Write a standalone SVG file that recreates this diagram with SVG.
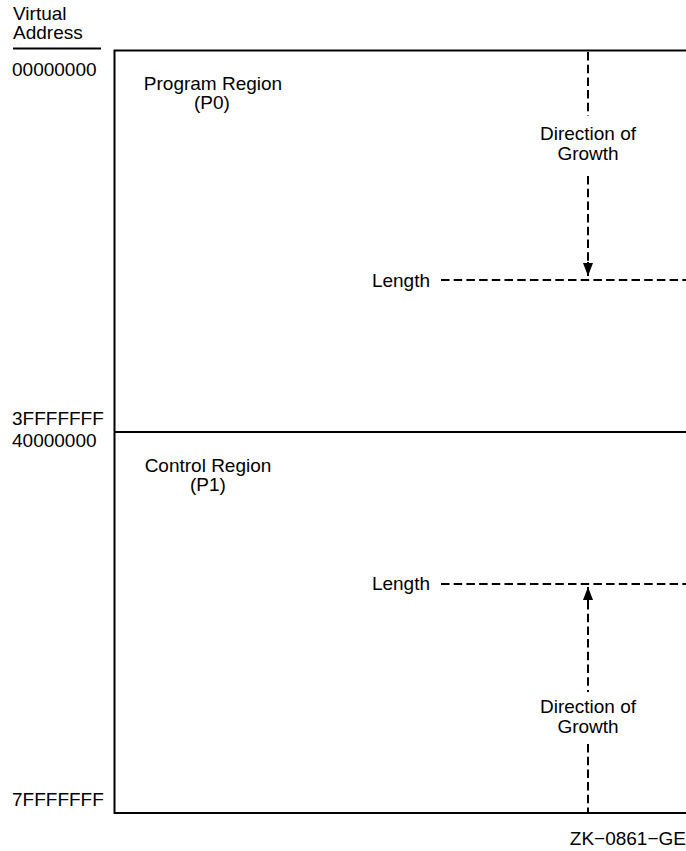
<svg xmlns="http://www.w3.org/2000/svg" width="686" height="851" viewBox="0 0 686 851">
<style>
text{font-family:"Liberation Sans",Arial,sans-serif;font-size:19px;fill:#000}
.c{text-anchor:middle}
.e{text-anchor:end}
.solid{stroke:#000;stroke-width:2;fill:none}
.dash{stroke:#000;stroke-width:2;fill:none;stroke-dasharray:8.5 4.2}
.stem{stroke:#000;stroke-width:2}
</style>
<defs>
<marker id="ah" viewBox="0 0 13 10" refX="13" refY="5" markerWidth="13" markerHeight="10" markerUnits="userSpaceOnUse" orient="auto">
<path d="M0,0 L13,5 L0,10 z" fill="#000"/>
</marker>
</defs>
<rect width="686" height="851" fill="#fff"/>
<g id="axis-labels">
<text x="13" y="20">Virtual</text>
<text x="13" y="39">Address</text>
<line x1="13" y1="48.5" x2="101" y2="48.5" class="solid"/>
<text x="12" y="76">00000000</text>
<text x="12" y="425">3FFFFFFF</text>
<text x="12" y="447">40000000</text>
<text x="12" y="806">7FFFFFFF</text>
</g>
<g id="box">
<polyline points="686,50.5 114.5,50.5 114.5,813 686,813" class="solid"/>
<line x1="114" y1="432" x2="686" y2="432" class="solid"/>
</g>
<g id="p0">
<text x="213" y="90" class="c">Program Region</text>
<text x="212" y="109" class="c">(P0)</text>
</g>
<g id="p1">
<text x="208" y="472" class="c">Control Region</text>
<text x="208" y="491" class="c">(P1)</text>
</g>
<g id="connectors">
<line x1="588" y1="52" x2="588" y2="116" class="dash"/>
<line x1="588" y1="176" x2="588" y2="262" class="dash"/>
<line x1="588" y1="262" x2="588" y2="276" class="stem" marker-end="url(#ah)"/>
<line x1="441" y1="280" x2="686" y2="280" class="dash"/>
<line x1="441" y1="584" x2="686" y2="584" class="dash"/>
<line x1="588" y1="601" x2="588" y2="587" class="stem" marker-end="url(#ah)"/>
<line x1="588" y1="601" x2="588" y2="692" class="dash"/>
<line x1="588" y1="744" x2="588" y2="812" class="dash"/>
</g>
<g id="labels">
<text x="588" y="140" class="c">Direction of</text>
<text x="588" y="160" class="c">Growth</text>
<text x="430" y="287" class="e">Length</text>
<text x="430" y="590" class="e">Length</text>
<text x="588" y="713" class="c">Direction of</text>
<text x="588" y="733" class="c">Growth</text>
<text x="686" y="845" class="e">ZK−0861−GE</text>
</g>
</svg>
